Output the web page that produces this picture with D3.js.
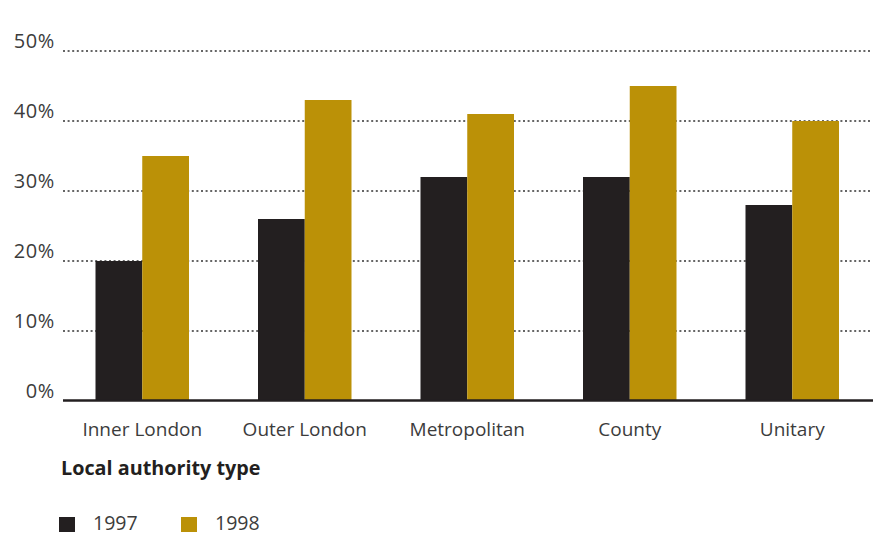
<!DOCTYPE html>
<html><head><meta charset="utf-8">
<script src="https://cdn.jsdelivr.net/npm/d3@7"></script>
<style>
html,body{margin:0;padding:0;background:#fff;}
text{font-family:"Open Sans",sans-serif;}
</style></head>
<body>
<svg id="chart" width="883" height="535"></svg>
<script>
const categories = ["Inner London","Outer London","Metropolitan","County","Unitary"];
const seriesNames = ["1997","1998"];
const values1997 = [20,26,32,32,28];
const values1998 = [35,43,41,45,40];
const yTicks = [0,10,20,30,40,50];
const xTitle = "Local authority type";
const colors = ["#231f20","#bb9107"];

const svg = d3.select("#chart");
const y = d3.scaleLinear().domain([0,50]).range([401,51]);
const x0 = d3.scaleBand().domain(categories).range([61,873.5]).paddingInner(0.4246).paddingOuter(0.2123);
const x1 = d3.scaleBand().domain(seriesNames).range([0,x0.bandwidth()]);

// gridlines
svg.append("g").selectAll("line").data(yTicks.filter(d=>d>0)).join("line")
  .attr("x1",63).attr("x2",872).attr("y1",d=>y(d)).attr("y2",d=>y(d))
  .attr("stroke","#333").attr("stroke-width",1.5).attr("stroke-dasharray","2,2.6");

// y labels
svg.append("g").selectAll("text").data(yTicks).join("text")
  .attr("x",55).attr("y",d=>y(d)-3).attr("text-anchor","end")
  .attr("font-size",20).attr("letter-spacing",0.6).attr("fill","#3c3c3c").text(d=>d+"%");

// bars
const data = categories.map((c,i)=>({cat:c, vals:[values1997[i],values1998[i]]}));
const g = svg.append("g").selectAll("g").data(data).join("g")
  .attr("transform",d=>`translate(${x0(d.cat)},0)`);
g.selectAll("rect").data(d=>d.vals.map((v,j)=>({s:seriesNames[j],v,j}))).join("rect")
  .attr("x",d=>x1(d.s)).attr("width",x1.bandwidth())
  .attr("y",d=>y(d.v)).attr("height",d=>y(0)-y(d.v))
  .attr("fill",d=>colors[d.j]);

// baseline
svg.append("line").attr("x1",63).attr("x2",873).attr("y1",400.5).attr("y2",400.5)
  .attr("stroke","#231f20").attr("stroke-width",2.5);

// category labels
svg.append("g").selectAll("text").data(categories).join("text")
  .attr("x",d=>x0(d)+x0.bandwidth()/2).attr("y",436).attr("text-anchor","middle")
  .attr("font-size",19).attr("fill","#3c3c3c").text(d=>d);

// x title
svg.append("text").attr("x",61).attr("y",475).attr("font-size",19.8).attr("font-weight","bold")
  .attr("fill","#231f20").text(xTitle);

// legend
const lg = svg.append("g").selectAll("g").data(seriesNames).join("g")
  .attr("transform",(d,i)=>`translate(${59+i*122},0)`);
lg.append("rect").attr("x",0).attr("y",517).attr("width",16).attr("height",15).attr("fill",(d,i)=>colors[i]);
lg.append("text").attr("x",34).attr("y",529.5).attr("font-size",19.5).attr("fill","#3c3c3c").text(d=>d);
</script>
</body></html>
